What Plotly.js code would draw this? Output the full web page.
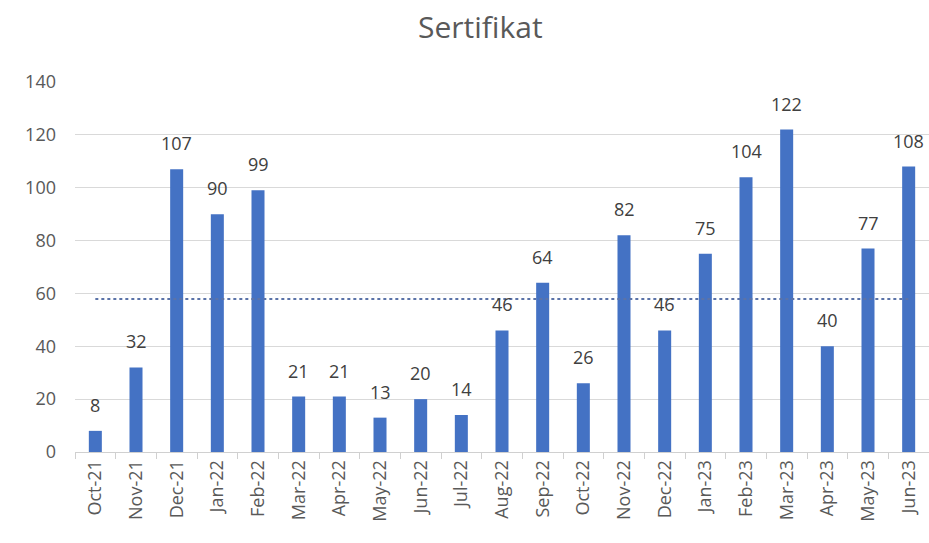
<!DOCTYPE html>
<html>
<head>
<meta charset="utf-8">
<script src="https://cdn.plot.ly/plotly-3.0.1.min.js"></script>
<style>html,body{margin:0;padding:0;background:#fff;}#chart{width:929px;height:543px;}</style>
</head>
<body>
<div id="chart"></div>
<script>
const months = ["Oct-21","Nov-21","Dec-21","Jan-22","Feb-22","Mar-22","Apr-22","May-22","Jun-22","Jul-22","Aug-22","Sep-22","Oct-22","Nov-22","Dec-22","Jan-23","Feb-23","Mar-23","Apr-23","May-23","Jun-23"];
const counts = [8,32,107,90,99,21,21,13,20,14,46,64,26,82,46,75,104,122,40,77,108];
const averageValue = 57.9;
const yTicks = [0,20,40,60,80,100,120,140];

const FONT = 'Open Sans, Noto Sans, Liberation Sans, sans-serif';

const bars = {
  type: 'bar', x: months, y: counts,
  marker: {color: '#4472C4'},
  width: 0.32, hoverinfo: 'x+y', showlegend: false
};
const avgLine = {
  type: 'scatter', mode: 'lines',
  x: [months[0], months[months.length-1]], y: [averageValue, averageValue],
  line: {color: '#5B73A8', width: 2, dash: 'dot'}, showlegend: false
};
const annotations = months.map((m, i) => ({
  x: m, y: counts[i], text: String(counts[i]), showarrow: false,
  xref: 'x', yref: 'y', yanchor: 'bottom', yshift: 12,
  font: {family: FONT, size: 18, color: '#404040'}
}));

Plotly.newPlot('chart', [bars, avgLine], {
  width: 929, height: 543,
  margin: {l: 75, r: 0, t: 82, b: 91},
  paper_bgcolor: '#fff', plot_bgcolor: '#fff',
  title: {text: 'Sertifikat', x: 0.517, xref: 'container', y: 0.95, yanchor: 'middle',
    font: {family: FONT, size: 30, color: '#595959'}},
  xaxis: {type: 'category', tickson: 'boundaries', ticks: 'outside', ticklen: 6, tickcolor: '#d0d0d0',
    showline: true, linecolor: '#d0d0d0', linewidth: 1, showgrid: false, tickangle: -90,
    tickfont: {family: FONT, size: 18, color: '#595959'}},
  yaxis: {range: [0, 140], tickvals: yTicks, showgrid: true, gridcolor: '#d9d9d9', zeroline: false,
    showline: false, ticks: '', ticklabelstandoff: 18,
    tickfont: {family: FONT, size: 18, color: '#595959'}},
  annotations: annotations,
  bargap: 0.68
}, {displayModeBar: false, staticPlot: true});
</script>
</body>
</html>
